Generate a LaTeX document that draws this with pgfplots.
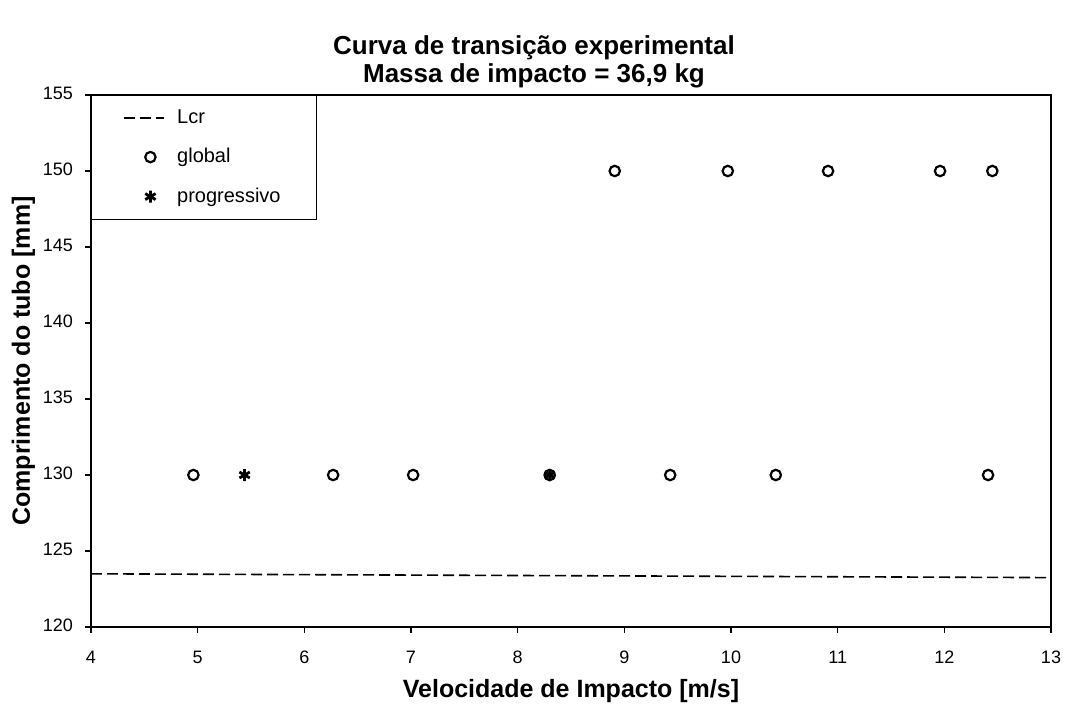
\documentclass[border=0pt]{standalone}
\usepackage{fontspec}
\setmainfont{Liberation Sans}
\usepackage{pgfplots}
\pgfplotsset{compat=1.18}
\pgfplotsset{
  lineleg/.style={legend image code/.code={\draw[##1] (0pt,0pt) -- (20pt,0pt);}},
  markleg/.style={legend image code/.code={\draw[mark repeat=2,mark phase=2,##1] plot coordinates {(0pt,0pt) (13pt,0pt) (20pt,0pt)};}},
}
\begin{document}
\begin{tikzpicture}
\begin{axis}[
  width=480pt, height=266pt, scale only axis,
  xmin=4, xmax=13, ymin=120, ymax=155,
  xtick={4,5,...,13}, ytick={120,125,...,155},
  tick align=outside, tick pos=left, major tick length=3pt,
  axis line style={line width=0.9pt},
  tick style={black, line width=0.6pt},
  /pgf/number format/assume math mode=true,
  typeset ticklabels with strut,
  ticklabel style={font=\fontsize{9}{11}\selectfont},
  xticklabel style={yshift=-4pt},
  yticklabel style={xshift=-2.5pt},
  title={Curva de transição experimental\\Massa de impacto = 36,9 kg},
  title style={font=\bfseries\fontsize{13}{14}\selectfont, align=center, xshift=-18.5pt, yshift=-6pt},
  xlabel={Velocidade de Impacto [m/s]},
  ylabel={Comprimento do tubo [mm]},
  label style={font=\bfseries\fontsize{12.5}{14}\selectfont},
  xlabel style={yshift=2pt},
  ylabel shift=-3pt,
  legend style={at={(0,1)}, anchor=north west, draw=black, line width=0.6pt,
    font=\fontsize{10}{12}\selectfont, row sep=7pt, column sep=4pt,
    inner xsep=16pt, inner ysep=5pt},
  legend cell align=left,
]
\addplot[black, line width=0.8pt, dash pattern=on 5.5pt off 2.5pt, lineleg]
  coordinates {(4,123.5) (13,123.25)};
\addlegendentry{Lcr}
\addplot[black, only marks, mark=o, mark size=2.6pt, line width=1.1pt, markleg]
  coordinates {(4.96,130) (6.27,130) (7.02,130) (8.30,130) (9.43,130) (10.42,130) (12.41,130)
               (8.91,150) (9.97,150) (10.91,150) (11.96,150) (12.45,150)};
\addlegendentry{global}
\addplot[black, only marks, mark=asterisk, mark size=3pt, line width=1.4pt, markleg]
  coordinates {(5.44,130) (8.30,130)};
\addlegendentry{progressivo}
\end{axis}
\path ([shift={(-45.5pt,-40.5pt)}]current axis.south west) rectangle ([shift={(8.5pt,47.5pt)}]current axis.north east);
\end{tikzpicture}
\end{document}
